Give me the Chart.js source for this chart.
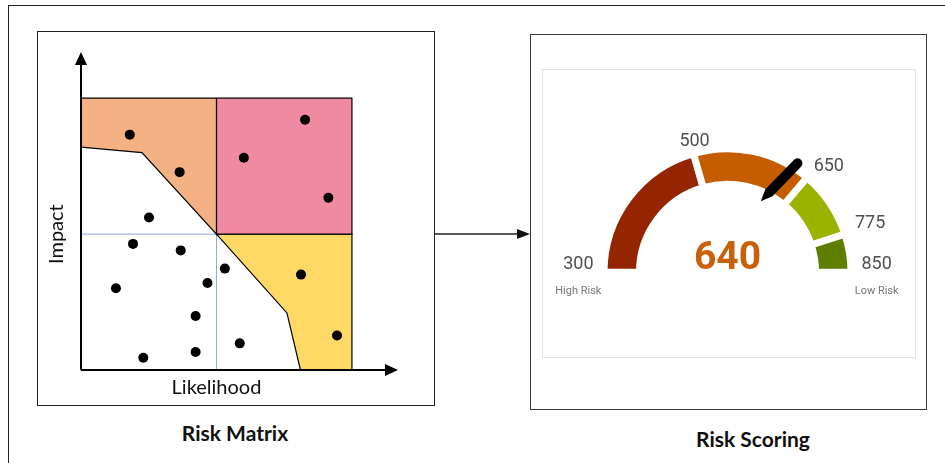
<!DOCTYPE html>
<html>
<head>
<meta charset="utf-8">
<script src="https://cdn.jsdelivr.net/npm/chart.js@4.4.1/dist/chart.umd.min.js"></script>
<style>
  html, body { margin: 0; padding: 0; background: #fff; }
  body { width: 945px; height: 463px; position: relative; overflow: hidden; font-family: Lato, sans-serif; }
  .frame { position: absolute; box-sizing: border-box; }
  #outer { left: 8px; top: 5px; width: 960px; height: 480px; border: 1px solid #222; }
  #matrixBox { left: 37px; top: 31px; width: 398px; height: 375px; border: 1px solid #222; }
  #scoreBox { left: 530px; top: 34px; width: 397px; height: 376px; border: 1.5px solid #3a3a3a; }
  #gaugeBox { left: 542px; top: 69px; width: 374px; height: 289px; border: 1px solid #e2e2e2; }
  canvas { position: absolute; }
  #matrix { left: 37px; top: 31px; }
  #gauge { left: 542px; top: 69px; }
  .caption { position: absolute; font: bold 21px Lato, sans-serif; line-height: 1; color: #111;
             transform: translate(-50%, -50%); white-space: nowrap; }
  #link { position: absolute; left: 434px; top: 226px; }
</style>
</head>
<body>
<div class="frame" id="outer"></div>
<div class="frame" id="matrixBox"></div>
<div class="frame" id="scoreBox"></div>
<div class="frame" id="gaugeBox"></div>
<canvas id="matrix" width="398" height="375"></canvas>
<canvas id="gauge" width="374" height="289"></canvas>
<svg id="link" width="100" height="16">
  <line x1="0" y1="8" x2="86" y2="8" stroke="#222" stroke-width="1.5"/>
  <polygon points="96,8 83,3 83,13" fill="#111"/>
</svg>
<div class="caption" style="left:235px; top:432px;">Risk Matrix</div>
<div class="caption" style="left:753px; top:438px;">Risk Scoring</div>

<script>
// ---- risk matrix (likelihood / impact on a 0-10 grid) ----
const riskX = [1.80, 3.64, 8.27, 6.01, 9.13, 2.51, 1.92, 3.68, 5.31, 4.67, 1.29, 8.12, 4.23, 9.45, 5.86, 4.23, 2.30];
const riskY = [8.66, 7.28, 9.21, 7.81, 6.34, 5.61, 4.64, 4.40, 3.73, 3.20, 3.01, 3.51, 1.99, 1.27, 0.98, 0.66, 0.45];

const orangeZone = [[0, 10], [5, 10], [5, 5], [2.25, 8], [0, 8.2], [0, 10]];
const pinkZone = [[5, 10], [10, 10], [10, 5], [5, 5], [5, 10]];
const yellowZone = [[5, 5], [10, 5], [10, 0], [8.1, 0], [7.6, 2.1], [5, 5]];
const midLineV = [[5, 0], [5, 5]];
const midLineH = [[0, 5], [5, 5]];

// ---- risk score gauge ----
const scoreTicks = [300, 500, 650, 775, 850];
const bandSpan = [74, 56, 32, 18];
const bandColors = ['#952500', '#C55C00', '#99B300', '#5E7E00'];
const score = 640;

const toPts = arr => arr.map(([x, y]) => ({x, y}));

function zone(pts, color) {
  return {
    data: toPts(pts),
    showLine: true,
    fill: 'shape',
    backgroundColor: color,
    borderColor: '#000',
    borderWidth: 1.2,
    pointRadius: 0,
    tension: 0,
    order: 2
  };
}

function guide(pts) {
  return {
    data: toPts(pts),
    showLine: true,
    borderColor: '#8EAADB',
    borderWidth: 1,
    pointRadius: 0,
    order: 3
  };
}

const matrixAxes = {
  id: 'matrixAxes',
  afterDatasetsDraw(chart) {
    const {ctx, scales: {x, y}} = chart;
    const x0 = x.getPixelForValue(0);
    const y0 = y.getPixelForValue(0);
    const xEnd = x.getPixelForValue(x.max);
    const yEnd = y.getPixelForValue(y.max);
    ctx.save();
    ctx.strokeStyle = '#000';
    ctx.fillStyle = '#000';
    ctx.lineWidth = 2;
    ctx.beginPath();
    ctx.moveTo(x0, y0);
    ctx.lineTo(xEnd - 10, y0);
    ctx.moveTo(x0, y0);
    ctx.lineTo(x0, yEnd + 10);
    ctx.stroke();
    ctx.beginPath();
    ctx.moveTo(xEnd, y0);
    ctx.lineTo(xEnd - 13, y0 - 6);
    ctx.lineTo(xEnd - 13, y0 + 6);
    ctx.closePath();
    ctx.moveTo(x0, yEnd);
    ctx.lineTo(x0 - 6, yEnd + 13);
    ctx.lineTo(x0 + 6, yEnd + 13);
    ctx.closePath();
    ctx.fill();

    ctx.font = '20px Lato';
    ctx.fillStyle = '#111';
    ctx.textAlign = 'center';
    ctx.textBaseline = 'middle';
    ctx.fillText('Likelihood', x.getPixelForValue(5), y0 + 18);
    ctx.translate(x0 - 24, y.getPixelForValue(5));
    ctx.rotate(-Math.PI / 2);
    ctx.fillText('Impact', 0, 0);
    ctx.restore();
  }
};

new Chart(document.getElementById('matrix'), {
  type: 'scatter',
  data: {
    datasets: [
      {
        data: riskX.map((x, i) => ({x, y: riskY[i]})),
        pointRadius: 5,
        backgroundColor: '#000',
        borderWidth: 0,
        order: 0
      },
      zone(orangeZone, '#F4B183'),
      zone(pinkZone, '#F08AA0'),
      zone(yellowZone, '#FFD966'),
      guide(midLineV),
      guide(midLineH)
    ]
  },
  options: {
    responsive: false,
    animation: false,
    events: [],
    layout: { padding: { left: 44, right: 37, top: 21, bottom: 36 } },
    scales: {
      x: { type: 'linear', min: 0, max: 11.7, display: false },
      y: { type: 'linear', min: 0, max: 11.7, display: false }
    },
    plugins: { legend: { display: false }, tooltip: { enabled: false } }
  },
  plugins: [matrixAxes]
});

const gaugeText = {
  id: 'gaugeText',
  afterDatasetsDraw(chart) {
    const {ctx} = chart;
    const arcs = chart.getDatasetMeta(0).data;
    const cx = arcs[0].x;
    const cy = arcs[0].y;
    const edges = arcs.map(a => a.startAngle).concat(arcs[arcs.length - 1].endAngle);

    ctx.save();
    // tick labels at the band edges
    ctx.font = '18px Roboto';
    ctx.fillStyle = '#505050';
    ctx.textBaseline = 'middle';
    const centers = [];
    scoreTicks.forEach((t, i) => {
      const a = edges[i];
      const c = Math.cos(a);
      const x = cx + 134 * c + (Math.abs(c) < 0.5 ? 4 : 0);
      const y = cy + 134 * Math.sin(a) - 2 - 6 * Math.pow(c, 4);
      const w = ctx.measureText(String(t)).width;
      const align = c > 0.3 ? 'left' : (c < -0.5 ? 'right' : 'center');
      ctx.textAlign = align;
      ctx.fillText(String(t), x, y);
      centers.push(align === 'left' ? x + w / 2 : (align === 'right' ? x - w / 2 : x));
    });

    ctx.font = '11px Roboto';
    ctx.fillStyle = '#777';
    ctx.textAlign = 'center';
    ctx.fillText('High Risk', centers[0], cy + 19);
    ctx.fillText('Low Risk', centers[centers.length - 1], cy + 19);

    // score value
    ctx.font = 'bold 39px Roboto';
    ctx.fillStyle = '#C8610A';
    ctx.textBaseline = 'alphabetic';
    ctx.fillText(String(score), cx, cy - 3);

    // pen marker
    let k = 0;
    while (k < scoreTicks.length - 2 && score > scoreTicks[k + 1]) k++;
    const f = (score - scoreTicks[k]) / (scoreTicks[k + 1] - scoreTicks[k]);
    const a = edges[k] + f * (edges[k + 1] - edges[k]);
    const lead = a - 6.1 * Math.PI / 180;
    const mx = cx + 106 * Math.cos(lead);
    const my = cy + 106 * Math.sin(lead);
    ctx.translate(mx, my);
    ctx.rotate(a + 7.8 * Math.PI / 180);
    ctx.fillStyle = '#000';
    ctx.beginPath();
    ctx.moveTo(-28.75, 0);
    ctx.lineTo(-17, -5);
    ctx.lineTo(24, -5);
    ctx.arc(24, 0, 5, -Math.PI / 2, Math.PI / 2);
    ctx.lineTo(-17, 5);
    ctx.closePath();
    ctx.fill();
    ctx.restore();
  }
};

new Chart(document.getElementById('gauge'), {
  type: 'doughnut',
  data: {
    labels: ['300-500', '500-650', '650-775', '775-850'],
    datasets: [{
      data: bandSpan,
      backgroundColor: bandColors,
      borderColor: '#fff',
      borderWidth: 7
    }]
  },
  options: {
    responsive: false,
    animation: false,
    events: [],
    rotation: -90,
    circumference: 180,
    radius: 123.5,
    cutout: '71.3%',
    layout: { padding: { right: 3, bottom: 6 } },
    plugins: { legend: { display: false }, tooltip: { enabled: false } }
  },
  plugins: [gaugeText]
});
</script>
</body>
</html>
